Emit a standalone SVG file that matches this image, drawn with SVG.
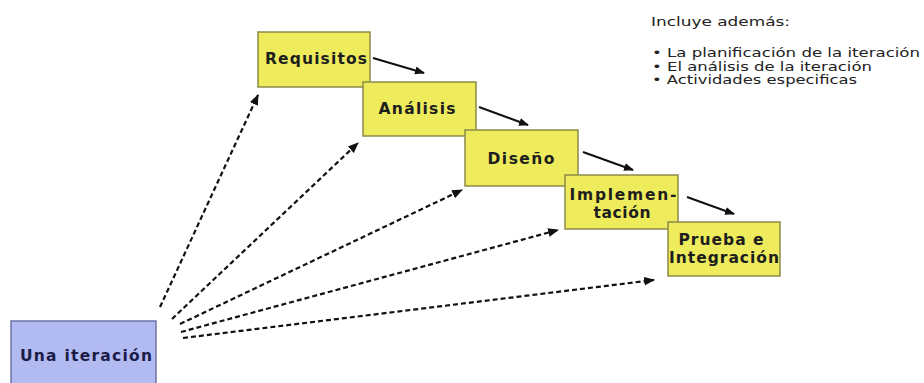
<svg xmlns="http://www.w3.org/2000/svg" width="924" height="383" viewBox="0 0 924 383">
<style>
.step{fill:#eeec5c;stroke:#8c8a48;stroke-width:1.5}
.lbl{font-family:"DejaVu Sans",Verdana,sans-serif;font-weight:bold;font-size:15.5px;fill:#1e1e1e;text-anchor:middle;dominant-baseline:central}
.solid{stroke:#111;stroke-width:2;fill:none;marker-end:url(#ah)}
.dash{stroke:#111;stroke-width:2.2;fill:none;stroke-dasharray:5 3;marker-end:url(#ah)}
.note{font-family:"DejaVu Sans",Verdana,sans-serif;font-size:11.5px;fill:#222}
</style>
<defs>
<marker id="ah" viewBox="0 0 10 10" refX="9" refY="5" markerWidth="5" markerHeight="5" orient="auto" markerUnits="strokeWidth">
<path d="M0,1 L10,5 L0,9 z" fill="#111"/>
</marker>
</defs>
<rect width="924" height="383" fill="#ffffff"/>
<g id="connectors">
<line class="solid" x1="373" y1="58" x2="424" y2="73"/>
<line class="solid" x1="479" y1="107" x2="528" y2="125"/>
<line class="solid" x1="583" y1="152" x2="633" y2="170"/>
<line class="solid" x1="687" y1="197" x2="734" y2="214"/>
<line class="dash" x1="160" y1="307" x2="258" y2="95"/>
<line class="dash" x1="172" y1="319" x2="358" y2="143"/>
<line class="dash" x1="180" y1="324" x2="462" y2="190"/>
<line class="dash" x1="181" y1="332" x2="558" y2="230"/>
<line class="dash" x1="183" y1="338" x2="654" y2="280"/>
</g>
<g id="una-iteracion">
<rect x="11" y="321" width="145" height="70" fill="#b2baf2" stroke="#6e72a6" stroke-width="1.5"/>
<text class="lbl" x="86" y="356" textLength="132" lengthAdjust="spacing" style="fill:#1c1c48">Una iteración</text>
</g>
<g id="requisitos">
<rect class="step" x="258" y="32" width="112" height="55"/>
<text class="lbl" x="316" y="59" textLength="102" lengthAdjust="spacing">Requisitos</text>
</g>
<g id="analisis">
<rect class="step" x="363" y="82" width="113" height="54"/>
<text class="lbl" x="417" y="109" textLength="77" lengthAdjust="spacing">Análisis</text>
</g>
<g id="diseno">
<rect class="step" x="465" y="130" width="113" height="56"/>
<text class="lbl" x="521" y="159" textLength="67" lengthAdjust="spacing">Diseño</text>
</g>
<g id="implementacion">
<rect class="step" x="565" y="175" width="113" height="54"/>
<text class="lbl" x="623" y="195" textLength="107" lengthAdjust="spacing">Implemen-</text>
<text class="lbl" x="622" y="213" textLength="57" lengthAdjust="spacing">tación</text>
</g>
<g id="prueba">
<rect class="step" x="668" y="222" width="112" height="54"/>
<text class="lbl" x="721" y="240" textLength="85" lengthAdjust="spacing">Prueba e</text>
<text class="lbl" x="724" y="258" textLength="110" lengthAdjust="spacing">Integración</text>
</g>
<g id="nota">
<text class="note" x="651" y="26" textLength="139" lengthAdjust="spacingAndGlyphs">Incluye además:</text>
<text class="note" x="652" y="57" textLength="268" lengthAdjust="spacingAndGlyphs">• La planificación de la iteración</text>
<text class="note" x="652" y="70.5" textLength="220" lengthAdjust="spacingAndGlyphs">• El análisis de la iteración</text>
<text class="note" x="652" y="84" textLength="205" lengthAdjust="spacingAndGlyphs">• Actividades especificas</text>
</g>
</svg>
